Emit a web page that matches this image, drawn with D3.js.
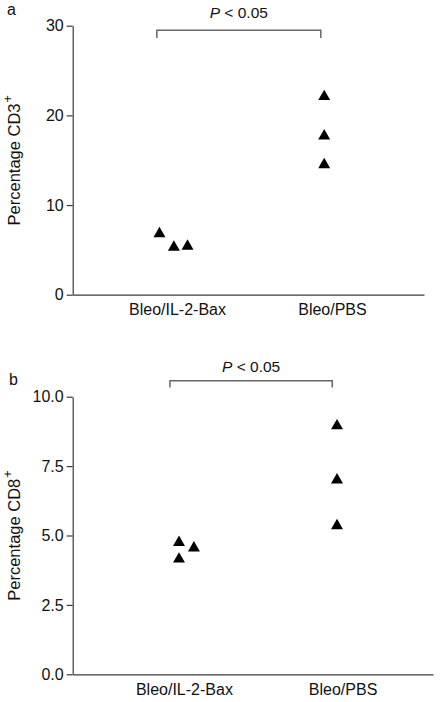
<!DOCTYPE html>
<html>
<head>
<meta charset="utf-8">
<script src="https://cdn.jsdelivr.net/npm/d3@7"></script>
<style>
  html, body { margin: 0; padding: 0; background: #fff; }
  svg { display: block; font-family: Arial, "Liberation Sans", Helvetica, sans-serif; }
</style>
</head>
<body>
<svg id="chart" width="444" height="702"></svg>
<script>
// ---- Data ----
const categories = ["Bleo/IL-2-Bax", "Bleo/PBS"];

// Panel a: Percentage CD3+
const cd3Group = [0, 0, 0, 1, 1, 1];
const cd3Values = [6.8, 5.3, 5.4, 22.1, 17.7, 14.5];
const cd3Jitter = [-0.113, -0.02, 0.068, -0.05, -0.05, -0.05];
const cd3Ticks = [0, 10, 20, 30];

// Panel b: Percentage CD8+
const cd8Group = [0, 0, 0, 1, 1, 1];
const cd8Values = [4.75, 4.55, 4.15, 8.95, 7.0, 5.35];
const cd8Jitter = [-0.031, 0.063, -0.031, -0.035, -0.035, -0.035];
const cd8Ticks = [0, 2.5, 5, 7.5, 10];

const pLabel = "P";
const pRest = " < 0.05";

// ---- Layout ----
const svg = d3.select("#chart");
const FONT = 16;
const AXIS_COLOR = "#3a3a3a";
const BRACKET_COLOR = "#666";

function panel(cfg) {
  const g = svg.append("g");
  const x = d3.scaleLinear().domain(cfg.xDomain).range([cfg.left, cfg.right]);
  const y = d3.scaleLinear().domain(cfg.yDomain).range([cfg.bottom, cfg.top]);

  // y axis
  const ya = g.append("g")
    .attr("transform", `translate(${cfg.left},0)`)
    .call(d3.axisLeft(y).tickValues(cfg.ticks).tickFormat(cfg.fmt)
      .tickSizeInner(6).tickSizeOuter(0).tickPadding(3));
  ya.selectAll("path, line").attr("stroke", AXIS_COLOR).attr("stroke-width", 1.2);
  ya.selectAll("text").attr("font-size", FONT).attr("fill", "#111")
    .attr("font-family", "Arial, 'Liberation Sans', sans-serif");

  // x axis
  const xa = g.append("g")
    .attr("transform", `translate(0,${cfg.bottom})`)
    .call(d3.axisBottom(x).tickValues([0, 1]).tickFormat(i => categories[i])
      .tickSizeInner(0).tickSizeOuter(0).tickPadding(9));
  xa.select("path").attr("stroke", AXIS_COLOR).attr("stroke-width", 1.2);
  xa.selectAll("line").remove();
  xa.selectAll("text").attr("font-size", FONT).attr("fill", "#111")
    .attr("font-family", "Arial, 'Liberation Sans', sans-serif");

  // y title
  const yt = g.append("text")
    .attr("transform", `translate(${cfg.titleX},${(cfg.top + cfg.bottom) / 2}) rotate(-90)`)
    .attr("text-anchor", "middle")
    .attr("font-size", FONT + 0.5)
    .attr("fill", "#111");
  yt.append("tspan").text(cfg.title);
  yt.append("tspan").text("+").attr("font-size", FONT * 0.8).attr("dy", "-0.6em").attr("dx", "1");

  // points
  const sym = d3.symbol().type(d3.symbolTriangle).size(62);
  g.selectAll("path.pt")
    .data(cfg.values.map((v, i) => ({ v, grp: cfg.groups[i], j: cfg.jitter[i] })))
    .join("path")
    .attr("class", "pt")
    .attr("d", sym)
    .attr("fill", "#000")
    .attr("transform", d => `translate(${x(d.grp + d.j)},${y(d.v)})`);

  // significance bracket
  const bx0 = x(cfg.bracket.from), bx1 = x(cfg.bracket.to);
  const by = y(cfg.bracket.y), byd = y(cfg.bracket.y - cfg.bracket.drop);
  g.append("path")
    .attr("d", `M${bx0},${byd}V${by}H${bx1}V${byd}`)
    .attr("fill", "none")
    .attr("stroke", BRACKET_COLOR)
    .attr("stroke-width", 1.5);
  const pt = g.append("text")
    .attr("x", (bx0 + bx1) / 2)
    .attr("y", by - cfg.bracket.textGap)
    .attr("text-anchor", "middle")
    .attr("font-size", FONT - 0.5)
    .attr("fill", "#111");
  pt.append("tspan").text(pLabel).attr("font-style", "italic");
  pt.append("tspan").text(pRest);

  // panel letter
  g.append("text")
    .attr("x", cfg.letterX).attr("y", cfg.letterY)
    .attr("font-size", FONT).attr("fill", "#111")
    .text(cfg.letter);
}

panel({
  letter: "a", letterX: 7, letterY: 15,
  title: "Percentage CD3", titleX: 20,
  left: 72.7, right: 424, top: 25.7, bottom: 294.7,
  xDomain: [-0.673, 1.594], yDomain: [0, 30],
  ticks: cd3Ticks, fmt: d3.format("d"),
  groups: cd3Group, values: cd3Values, jitter: cd3Jitter,
  bracket: { from: -0.13, to: 0.928, y: 29.5, drop: 0.86, textGap: 11.7 }
});

panel({
  letter: "b", letterX: 9, letterY: 385,
  title: "Percentage CD8", titleX: 20,
  left: 72.7, right: 433, top: 396.7, bottom: 674.3,
  xDomain: [-0.701, 1.57], yDomain: [0, 10],
  ticks: cd8Ticks, fmt: d3.format(".1f"),
  groups: cd8Group, values: cd8Values, jitter: cd8Jitter,
  bracket: { from: -0.088, to: 0.935, y: 10.577, drop: 0.25, textGap: 8.4 }
});
</script>
</body>
</html>
